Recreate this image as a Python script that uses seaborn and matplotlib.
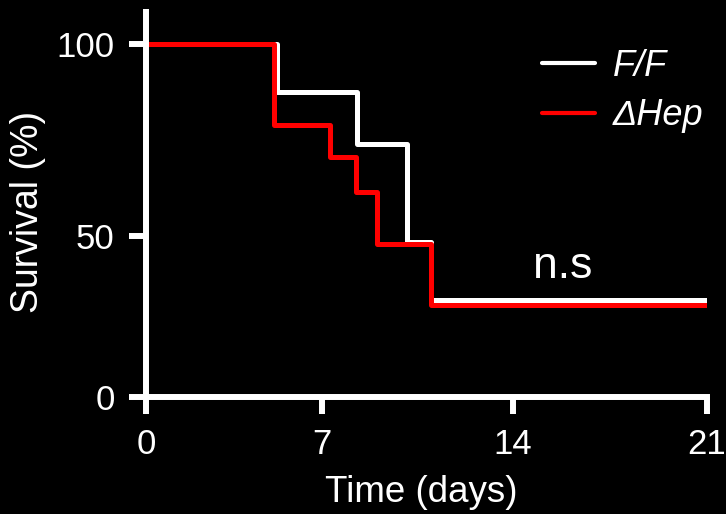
import numpy as np
import pandas as pd
import seaborn as sns
import matplotlib.pyplot as plt

# survival curves
days_ff = [0, 5.2, 8.3, 10.1, 11.0, 21]
surv_ff = [100, 87.5, 74, 48, 30, 30]
days_hep = [0, 5.1, 7.3, 8.25, 9.0, 11.0, 21]
surv_hep = [100, 79, 70.5, 61.5, 47.5, 28.5, 28.5]
groups = ["F/F", "ΔHep"]
xticks = [0, 7, 14, 21]
yticks = [0, 50, 100]

df = pd.concat([
    pd.DataFrame({"days": days_ff, "surv": surv_ff, "group": groups[0]}),
    pd.DataFrame({"days": days_hep, "surv": surv_hep, "group": groups[1]}),
])

sns.set_theme(style="ticks")
plt.rcParams["font.family"] = ["Liberation Sans", "DejaVu Sans"]

# axis spacing in the original is slightly uneven
xk, xp = [-7, 0, 7, 14, 21, 28], [-176, 0, 176, 367, 561, 755]
yk, yp = [-50, 0, 50, 100, 150], [-161, 0, 161, 353, 545]

fig = plt.figure(figsize=(7.26, 5.14), dpi=100, facecolor="black")
ax = fig.add_axes([146 / 726, 117 / 514, 561 / 726, 385 / 514])
ax.set_facecolor("black")
ax.set_xscale("function", functions=(lambda v: np.interp(v, xk, xp), lambda v: np.interp(v, xp, xk)))
ax.set_yscale("function", functions=(lambda v: np.interp(v, yk, yp), lambda v: np.interp(v, yp, yk)))

sns.lineplot(data=df, x="days", y="surv", hue="group", hue_order=groups,
             palette={"F/F": "white", "ΔHep": "red"}, drawstyle="steps-post",
             linewidth=3.6, ax=ax, legend=True, estimator=None, sort=False)

ax.set_xlim(0, 21)
ax.set_ylim(0, 108.3)
ax.set_xticks(xticks)
ax.set_yticks(yticks)
ax.xaxis.set_minor_locator(plt.NullLocator())
ax.yaxis.set_minor_locator(plt.NullLocator())

for s in ["top", "right"]:
    ax.spines[s].set_visible(False)
for s in ["left", "bottom"]:
    ax.spines[s].set_color("white")
    ax.spines[s].set_linewidth(4.3)
ax.tick_params(colors="white", width=4.3, length=12.5, labelsize=25, pad=10)

ax.set_xlabel("Time (days)", color="white", fontsize=26.5, va="center")
ax.set_ylabel("Survival (%)", color="white", fontsize=27, va="center")
ax.xaxis.set_label_coords(0.49, -0.249)
ax.yaxis.set_label_coords(-0.21, 0.48)

ax.text(0.743, 0.338, "n.s", transform=ax.transAxes, color="white",
        fontsize=32, ha="center", va="center")

leg = ax.legend(loc="upper left", bbox_to_anchor=(0.7466, 0.905),
                bbox_transform=fig.transFigure, frameon=False, borderpad=0,
                borderaxespad=0, handlelength=1.47, handletextpad=0.5,
                labelspacing=0.4, prop={"size": 26, "style": "italic"})
for t in leg.get_texts():
    t.set_color("white")
for h in leg.get_lines():
    h.set_linewidth(3)

fig.savefig("out.png", dpi=100, facecolor="black")
